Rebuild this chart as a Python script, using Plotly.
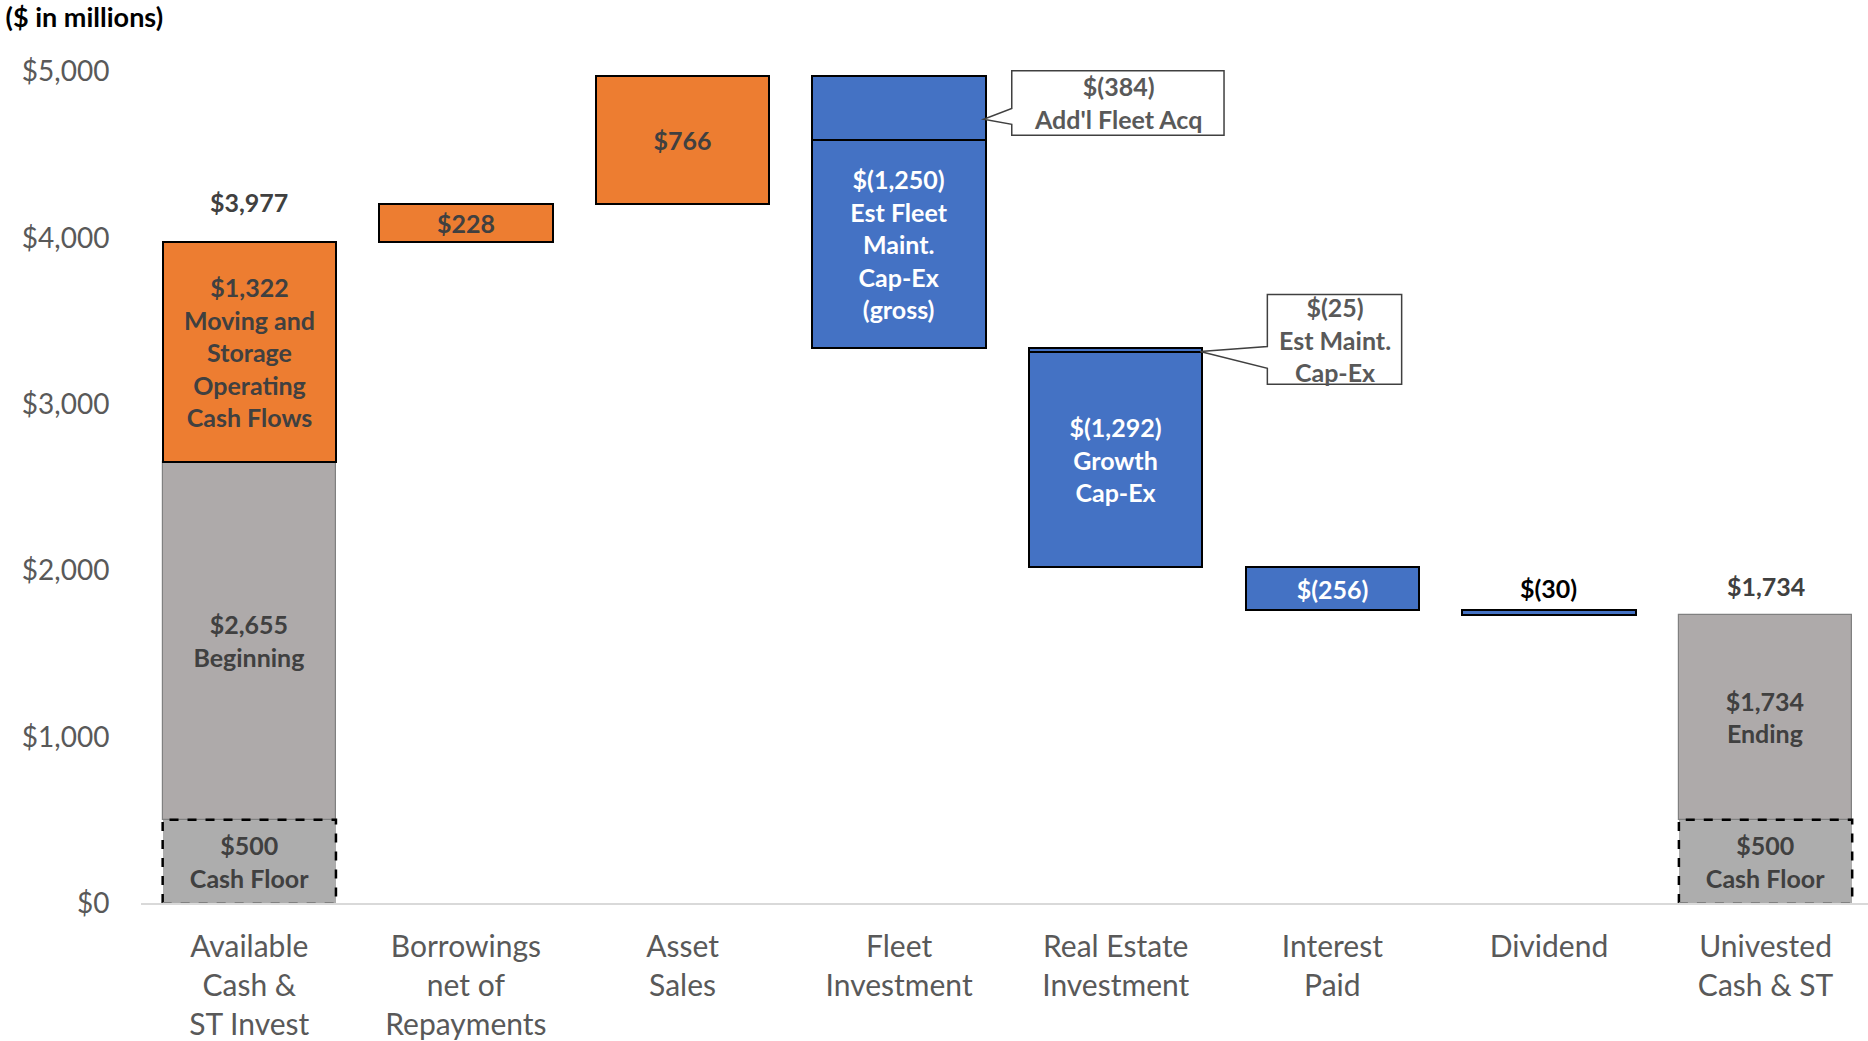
import plotly.graph_objects as go

# ---------------- data ----------------
categories = ["Available<br>Cash &<br>ST Invest", "Borrowings<br>net of<br>Repayments", "Asset<br>Sales",
              "Fleet<br>Investment", "Real Estate<br>Investment", "Interest<br>Paid", "Dividend",
              "Univested<br>Cash & ST"]
cash_floor = 500
beginning_cash = 2655
ending_cash = 1734
total_cats = [0, 7]
total_values = [beginning_cash, ending_cash]
total_desc = ["Beginning", "Ending"]

step_cats = [0, 1, 2, 3, 3, 4, 4, 5, 6]
step_values = [1322, 228, 766, -384, -1250, -25, -1292, -256, -30]
step_desc = ["Moving and<br>Storage<br>Operating<br>Cash Flows", "", "", "Add'l Fleet Acq",
             "Est Fleet<br>Maint.<br>Cap-Ex<br>(gross)", "Est Maint.<br>Cap-Ex", "Growth<br>Cap-Ex", "", ""]
step_label_mode = ["inside", "inside", "inside", "callout", "inside", "callout", "inside", "inside", "above"]

y_ticks = [0, 1000, 2000, 3000, 4000, 5000]

# ---------------- styles ----------------
FONT = "Lato, 'Open Sans', sans-serif"
ORANGE = "#ED7D31"
BLUE = "#4472C4"
GRAY = "#AEAAAA"
FLOOR_GRAY = "#ADADAD"
DARK = "#404040"
AXIS_TXT = "#595959"
BAR_W = 0.8
LBL = 25


def money(v):
    s = f"{abs(v):,}"
    return f"${s}" if v >= 0 else f"$({s})"


# waterfall geometry from data
bases, heights, colors, texts, tcolors = [], [], [], [], []
level = beginning_cash
seg_info = []
for c, v, d, m in zip(step_cats, step_values, step_desc, step_label_mode):
    start, end = level, level + v
    lo, hi = min(start, end), max(start, end)
    bases.append(lo)
    heights.append(hi - lo)
    colors.append(ORANGE if v >= 0 else BLUE)
    tcolors.append(DARK if v >= 0 else "white")
    lab = money(v) + ("<br>" + d if d else "")
    texts.append(lab if m == "inside" else "")
    seg_info.append((c, lo, hi, lab, m))
    level = end

fig = go.Figure()

# cash floor
fig.add_trace(go.Bar(
    x=total_cats, y=[cash_floor] * len(total_cats), base=[0] * len(total_cats), width=BAR_W,
    marker=dict(color=FLOOR_GRAY, line=dict(width=0)),
    text=[money(cash_floor) + "<br>Cash Floor"] * len(total_cats),
    textposition="inside", insidetextanchor="middle", textangle=0, constraintext="none",
    textfont=dict(family=FONT, size=LBL, color=DARK, weight="bold"),
    hoverinfo="skip", showlegend=False))

# beginning / ending above floor
fig.add_trace(go.Bar(
    x=total_cats, y=[v - cash_floor for v in total_values], base=[cash_floor] * len(total_cats), width=BAR_W,
    marker=dict(color=GRAY, line=dict(width=1.2, color="#808080")),
    text=[money(v) + "<br>" + d for v, d in zip(total_values, total_desc)],
    textposition="inside", insidetextanchor="middle", textangle=0, constraintext="none",
    textfont=dict(family=FONT, size=LBL, color=DARK, weight="bold"),
    hoverinfo="skip", showlegend=False))

# steps
fig.add_trace(go.Bar(
    x=step_cats, y=heights, base=bases, width=BAR_W,
    marker=dict(color=colors, line=dict(width=2, color="black")),
    text=texts, textposition="inside", insidetextanchor="middle", textangle=0, constraintext="none",
    textfont=dict(family=FONT, size=LBL, color=tcolors, weight="bold"),
    hoverinfo="skip", showlegend=False))

shapes = []
# dashed borders for cash floor (black sides/top, grey bottom)
for c in total_cats:
    x0, x1 = c - BAR_W / 2, c + BAR_W / 2
    shapes.append(dict(type="path", xref="x", yref="y",
                       path=f"M {x0},0 L {x0},{cash_floor} L {x1},{cash_floor} L {x1},0",
                       line=dict(color="black", width=2.5, dash="dash"), layer="above"))
    shapes.append(dict(type="line", xref="x", yref="y", x0=x0, x1=x1, y0=0, y1=0,
                       line=dict(color="#808080", width=2, dash="dash"), layer="above"))

annotations = []
# totals above first bar (beginning + operating) and last bar
first_total = beginning_cash + step_values[0]
annotations.append(dict(x=0, y=first_total, text=money(first_total), showarrow=False, yanchor="middle", yshift=40,
                        font=dict(family=FONT, size=LBL, color=DARK, weight="bold")))
annotations.append(dict(x=7, y=ending_cash, text=money(ending_cash), showarrow=False, yanchor="middle", yshift=29,
                        font=dict(family=FONT, size=LBL, color=DARK, weight="bold")))

# callouts geometry (box in data units relative to the segment)
callout_boxes = [
    dict(x0=3.52, x1=4.50, y0=4617, y1=5006, yb0=4683, yb1=4778, tipy=4713),
    dict(x0=4.70, x1=5.32, y0=3120, y1=3659, yb0=3216, yb1=3347, tipy=3317),
]
ci = 0
for (c, lo, hi, lab, m) in seg_info:
    if m == "above":
        annotations.append(dict(x=c, y=hi, text=lab, showarrow=False, yanchor="middle", yshift=22,
                                font=dict(family=FONT, size=LBL, color="black", weight="bold")))
    elif m == "callout":
        b = callout_boxes[ci]
        ci += 1
        tipx = c + BAR_W / 2 - 0.01
        path = (f"M {b['x0']},{b['y1']} L {b['x1']},{b['y1']} L {b['x1']},{b['y0']} L {b['x0']},{b['y0']} "
                f"L {b['x0']},{b['yb0']} L {tipx},{b['tipy']} L {b['x0']},{b['yb1']} Z")
        shapes.append(dict(type="path", xref="x", yref="y", path=path, fillcolor="white",
                           line=dict(color="#404040", width=1.5), layer="above"))
        annotations.append(dict(x=(b['x0'] + b['x1']) / 2, y=(b['y0'] + b['y1']) / 2, text=lab, showarrow=False,
                                yanchor="middle", xanchor="center",
                                font=dict(family=FONT, size=LBL, color=AXIS_TXT, weight="bold")))

fig.update_layout(
    width=1868, height=1041,
    margin=dict(l=141, r=0, t=55, b=134),
    plot_bgcolor="white", paper_bgcolor="white",
    barmode="overlay", bargap=0,
    font=dict(family=FONT),
    title=dict(text="<b>($ in millions)</b>", x=0.003, xanchor="left", xref="container",
               y=1 - 18 / 1041, yanchor="middle", yref="container",
               font=dict(family=FONT, size=27, color="black")),
    shapes=shapes, annotations=annotations,
    xaxis=dict(range=[-0.5, 7.473], tickmode="array", tickvals=list(range(len(categories))), ticktext=categories,
               showline=True, linecolor="#D9D9D9", linewidth=2, showgrid=False, zeroline=False,
               ticks="outside", ticklen=16, tickcolor="rgba(0,0,0,0)",
               tickfont=dict(family=FONT, size=30, color=AXIS_TXT)),
    yaxis=dict(range=[0, 5100], tickmode="array", tickvals=y_ticks, ticktext=[money(v) for v in y_ticks],
               showline=False, showgrid=False, zeroline=False,
               ticks="outside", ticklen=25, tickcolor="rgba(0,0,0,0)",
               tickfont=dict(family=FONT, size=28, color=AXIS_TXT)),
)

fig.write_html("out.html")
